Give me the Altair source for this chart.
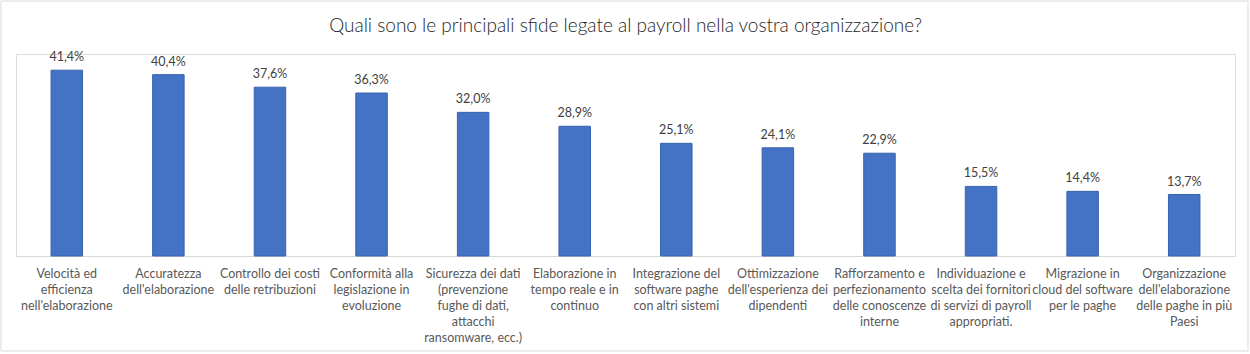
import altair as alt
import pandas as pd

categories = [
    "Velocità ed|efficienza|nell'elaborazione",
    "Accuratezza|dell'elaborazione",
    "Controllo dei costi|delle retribuzioni",
    "Conformità alla|legislazione in|evoluzione",
    "Sicurezza dei dati|(prevenzione|fughe di dati,|attacchi|ransomware, ecc.)",
    "Elaborazione in|tempo reale e in|continuo",
    "Integrazione del|software paghe|con altri sistemi",
    "Ottimizzazione|dell'esperienza dei|dipendenti",
    "Rafforzamento e|perfezionamento|delle conoscenze|interne",
    "Individuazione e|scelta dei fornitori|di servizi di payroll|appropriati.",
    "Migrazione in|cloud del software|per le paghe",
    "Organizzazione|dell'elaborazione|delle paghe in più|Paesi",
]
values = [41.4, 40.4, 37.6, 36.3, 32.0, 28.9, 25.1, 24.1, 22.9, 15.5, 14.4, 13.7]
title = ["Quali sono le principali sfide legate al payroll nella vostra organizzazione?"]

df = pd.DataFrame({"cat": categories, "val": values})

FONT = "Lato"

x = alt.X(
    "cat:N",
    sort=None,
    scale=alt.Scale(paddingInner=0.69, paddingOuter=0.345),
    axis=alt.Axis(
        title=None,
        labelAngle=0,
        labelExpr="split(datum.value, '|')",
        labelLineHeight=16,
        labelFontSize=12.5,
        labelFont=FONT,
        labelColor="#595959",
        labelBaseline="top",
        labelPadding=11,
        labelLimit=200,
        ticks=False,
        domainColor="#d9d9d9",
        domainWidth=1,
        grid=False,
    ),
)
y = alt.Y("val:Q", scale=alt.Scale(domain=[0, 45]), axis=None)

base = alt.Chart(df).encode(x=x, y=y)

bars = base.mark_bar(color="#4472C4", stroke="#3A62AE", strokeWidth=1)

labels = base.transform_calculate(
    lab="replace(format(datum.val, '.1f'), '.', ',') + '%'"
).mark_text(
    dy=-9, baseline="alphabetic", font=FONT, fontSize=12.5, color="#404040"
).encode(text="lab:N")

border = alt.Chart(pd.DataFrame({"a": [0]})).mark_rect(
    fill=None, stroke="#d9d9d9", strokeWidth=1
).encode(
    x=alt.value(-15), x2=alt.value(1232), y=alt.value(-53), y2=alt.value(297)
)

title_mark = alt.Chart(pd.DataFrame({"t": title})).mark_text(
    font=FONT, fontSize=19, fontWeight=300, color="#262626",
    align="center", baseline="middle"
).encode(text="t:N", x=alt.value(609.5), y=alt.value(-28))

chart = alt.layer(border, bars, labels, title_mark).properties(
    width=1219,
    height=202,
    autosize=alt.AutoSizeParams(type="none"),
    padding={"left": 16, "top": 54, "right": 15, "bottom": 98},
).configure_view(stroke=None).configure(background="white")

chart.save("out.html", embed_options={"renderer": "svg", "actions": False})
